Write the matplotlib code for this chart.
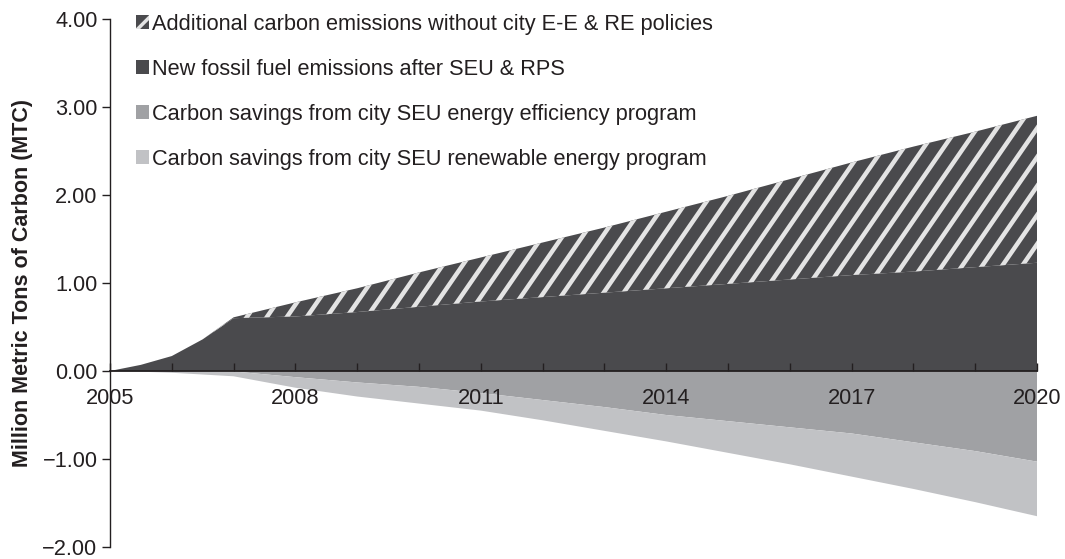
import matplotlib
matplotlib.use("Agg")
import matplotlib.pyplot as plt
from matplotlib.patches import Patch
from matplotlib.collections import LineCollection
from matplotlib.transforms import IdentityTransform
from matplotlib.ticker import FixedLocator, FuncFormatter
import numpy as np

# ---- data (million metric tons of carbon) ----
years = [2005, 2005.5, 2006, 2006.5, 2007, 2008, 2009, 2010, 2011, 2012,
         2013, 2014, 2015, 2016, 2017, 2018, 2019, 2020]
new_fossil = [0, 0.07, 0.17, 0.36, 0.60, 0.62, 0.67, 0.73, 0.79, 0.84,
              0.89, 0.94, 0.99, 1.04, 1.09, 1.13, 1.18, 1.23]
additional = [0, 0, 0, 0, 0.01, 0.16, 0.27, 0.39, 0.50, 0.62,
              0.74, 0.87, 1.00, 1.14, 1.28, 1.42, 1.54, 1.67]
ee_savings = [0, 0, 0, 0, 0.005, 0.07, 0.13, 0.18, 0.25, 0.33,
              0.41, 0.50, 0.57, 0.64, 0.71, 0.81, 0.91, 1.03]
re_savings = [0, 0.008, 0.02, 0.04, 0.055, 0.12, 0.16, 0.19, 0.20, 0.23,
              0.27, 0.30, 0.36, 0.42, 0.49, 0.53, 0.58, 0.62]

labels = ["Additional carbon emissions without city E-E & RE policies",
          "New fossil fuel emissions after SEU & RPS",
          "Carbon savings from city SEU energy efficiency program",
          "Carbon savings from city SEU renewable energy program"]
y_ticks = [-2, -1, 0, 1, 2, 3, 4]
x_label_years = [2005, 2008, 2011, 2014, 2017, 2020]

DARK = "#4a4a4d"
MED = "#a0a1a4"
LIGHT = "#c1c2c5"
HATCH_C = "#e4e4e4"
TXT = "#231f20"
FS = 15.7

plt.rcParams["font.family"] = ["Liberation Sans", "DejaVu Sans"]
plt.rcParams["hatch.linewidth"] = 2.5
plt.rcParams["text.color"] = TXT

x = np.array(years)
nf = np.array(new_fossil)
ad = np.array(additional)
ee = np.array(ee_savings)
re_ = np.array(re_savings)

W, H = 1065, 559
fig = plt.figure(figsize=(W / 100, H / 100), dpi=100)
ax = fig.add_axes([110 / W, 1 - 547 / H, (1037 - 110) / W, (547 - 19) / H])

ax.fill_between(x, 0, nf, facecolor=DARK, edgecolor="none", linewidth=0, zorder=1)
hatched = ax.fill_between(x, nf, nf + ad, facecolor=DARK, edgecolor="none",
                          linewidth=0, zorder=1)
ax.fill_between(x, 0, -ee, facecolor=MED, edgecolor="none", linewidth=0, zorder=1)
ax.fill_between(x, -ee, -(ee + re_), facecolor=LIGHT, edgecolor="none", linewidth=0, zorder=1)

# diagonal white stripes inside the "additional" band (style only)
period = 20.0
slope = 1.45
segs = []
for k in range(-40, 80):
    x0 = k * period
    segs.append([(x0, 0), (x0 + H / slope, H)])
stripes = LineCollection(segs, colors=HATCH_C, linewidths=3.2,
                         transform=IdentityTransform(), zorder=1.1)
ax.add_collection(stripes, autolim=False)
stripes.set_clip_path(hatched.get_paths()[0], hatched.get_transform())

ax.set_xlim(2005, 2020)
ax.set_ylim(-2, 4)

for s in ["top", "right"]:
    ax.spines[s].set_visible(False)
ax.spines["bottom"].set_position(("data", 0))
ax.spines["bottom"].set_color(TXT)
ax.spines["bottom"].set_linewidth(1.3)
ax.spines["left"].set_color(TXT)
ax.spines["left"].set_linewidth(1.0)

ax.xaxis.set_major_locator(FixedLocator(list(range(2005, 2021))))
ax.xaxis.set_major_formatter(FuncFormatter(
    lambda v, p: f"{int(round(v))}" if int(round(v)) in x_label_years else ""))
ax.tick_params(axis="x", direction="in", length=6, width=1.0, color=TXT,
               labelsize=FS, pad=12, labelcolor=TXT)
ax.set_yticks(y_ticks)
ax.yaxis.set_major_formatter(FuncFormatter(lambda v, p: f"{v:.2f}".replace("-", "\u2212")))
ax.tick_params(axis="y", direction="out", length=6, width=1.0, color=TXT,
               labelsize=FS, pad=3, labelcolor=TXT)

ax.set_ylabel("Million Metric Tons of Carbon (MTC)", fontsize=15.5, fontweight="bold",
              color=TXT, labelpad=7)

handles = [Patch(facecolor=DARK, edgecolor=HATCH_C, hatch="/", linewidth=0),
           Patch(facecolor=DARK, edgecolor="none"),
           Patch(facecolor=MED, edgecolor="none"),
           Patch(facecolor=LIGHT, edgecolor="none")]
leg = fig.legend(handles, labels, loc="upper left", bbox_to_anchor=(136 / W, 1 - 14 / H),
                 frameon=False, fontsize=FS, handlelength=0.6, handleheight=0.6,
                 handletextpad=0.15, labelspacing=1.1, borderaxespad=0, borderpad=0)
for t in leg.get_texts():
    t.set_color(TXT)

fig.savefig("out.png", dpi=100)
